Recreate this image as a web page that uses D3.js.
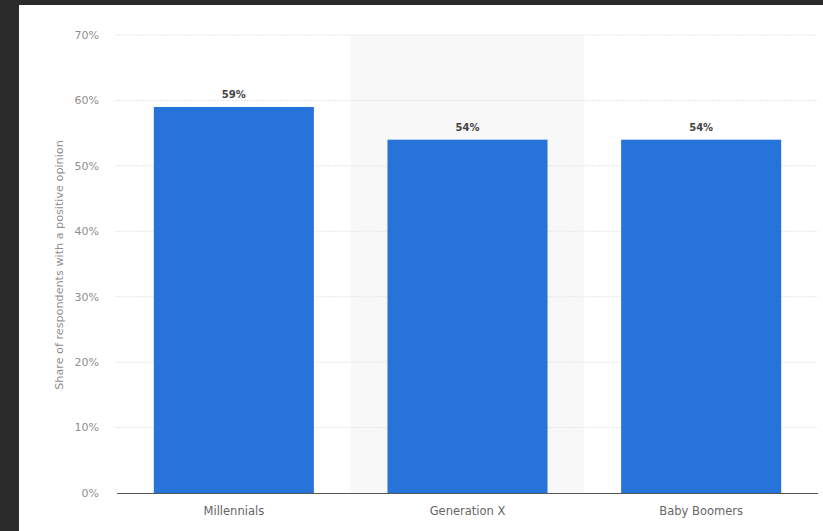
<!DOCTYPE html>
<html><head><meta charset="utf-8">
<script src="https://cdn.jsdelivr.net/npm/d3@7"></script>
<style>html,body{margin:0;padding:0;background:#2b2b2b;overflow:hidden}</style>
</head><body>
<svg id="c" width="823" height="531"></svg>
<script>
const categories = ["Millennials", "Generation X", "Baby Boomers"];
const values = [59, 54, 54];
const yTicks = [0, 10, 20, 30, 40, 50, 60, 70];
const yTitle = "Share of respondents with a positive opinion";

(function () {
const FONT = "'DejaVu Sans', Verdana, sans-serif";
const svg = d3.select("#c");
svg.append("rect").attr("x", 0).attr("y", 0).attr("width", 823).attr("height", 531).attr("fill", "#2b2b2b");
svg.append("rect").attr("x", 19).attr("y", 5).attr("width", 804).attr("height", 526).attr("fill", "#ffffff");

const mLeft = 117, mRight = 818, mTop = 35, mBottom = 493;
const y = d3.scaleLinear().domain([0, 70]).range([mBottom, mTop]);
const pi = 0.315;
const x = d3.scaleBand().domain(categories).range([mLeft, mRight]).paddingInner(pi).paddingOuter(pi / 2);
const step = x.step();

// shaded alternate band
svg.append("rect")
  .attr("x", x("Generation X") - step * pi / 2)
  .attr("y", y(70))
  .attr("width", step)
  .attr("height", y(0) - y(70))
  .attr("fill", "#f8f8f8");

// gridlines
svg.append("g").selectAll("line").data(yTicks.filter(d => d > 0)).join("line")
  .attr("x1", mLeft - 2).attr("x2", mRight)
  .attr("y1", d => y(d)).attr("y2", d => y(d))
  .attr("stroke", "#e6e6e6").attr("stroke-width", 1).attr("stroke-dasharray", "2,1");

// y tick labels
svg.append("g").selectAll("text").data(yTicks).join("text")
  .attr("x", 99).attr("y", d => y(d)).attr("dy", "0.35em")
  .attr("text-anchor", "end")
  .attr("font-family", FONT).attr("font-size", 11)
  .attr("fill", "#8f8f8f")
  .text(d => d + "%");

// y title
svg.append("text")
  .attr("transform", `translate(63,265) rotate(-90)`)
  .attr("text-anchor", "middle")
  .attr("font-family", FONT).attr("font-size", 11.2)
  .attr("fill", "#8f8f8f")
  .text(yTitle);

// bars
svg.append("g").selectAll("rect").data(values).join("rect")
  .attr("x", (d, i) => x(categories[i]))
  .attr("y", d => y(d))
  .attr("width", x.bandwidth())
  .attr("height", d => y(0) - y(d))
  .attr("fill", "#2673da");

// value labels
svg.append("g").selectAll("text").data(values).join("text")
  .attr("x", (d, i) => x(categories[i]) + x.bandwidth() / 2)
  .attr("y", d => y(d) - 9)
  .attr("text-anchor", "middle")
  .attr("font-family", FONT).attr("font-size", 10).attr("font-weight", "bold")
  .attr("fill", "#444")
  .text(d => d + "%");

// axis line
svg.append("line").attr("x1", mLeft).attr("x2", mRight).attr("y1", y(0) + 0.5).attr("y2", y(0) + 0.5)
  .attr("stroke", "#555").attr("stroke-width", 1.2);

// x labels
svg.append("g").selectAll("text").data(categories).join("text")
  .attr("x", d => x(d) + x.bandwidth() / 2)
  .attr("y", 515)
  .attr("text-anchor", "middle")
  .attr("font-family", FONT).attr("font-size", 11.5)
  .attr("fill", "#666")
  .text(d => d);
})();
</script>
</body></html>
